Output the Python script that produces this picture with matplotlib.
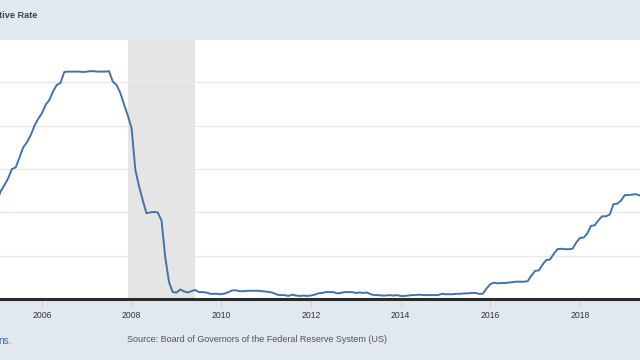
import matplotlib
matplotlib.use("Agg")
import matplotlib.pyplot as plt
import matplotlib.dates as mdates
import pandas as pd

# Effective Federal Funds Rate, monthly, Jan 2005 - Jun 2019 (percent)
rate_2005 = [2.28, 2.50, 2.63, 2.79, 3.00, 3.04, 3.26, 3.50, 3.62, 3.78, 4.00, 4.16]
rate_2006 = [4.29, 4.49, 4.59, 4.79, 4.94, 4.99, 5.24, 5.25, 5.25, 5.25, 5.25, 5.24]
rate_2007 = [5.25, 5.26, 5.26, 5.25, 5.25, 5.25, 5.26, 5.02, 4.94, 4.76, 4.49, 4.24]
rate_2008 = [3.94, 2.98, 2.61, 2.28, 1.98, 2.00, 2.01, 2.00, 1.81, 0.97, 0.39, 0.16]
rate_2009 = [0.15, 0.22, 0.18, 0.15, 0.18, 0.21, 0.16, 0.16, 0.15, 0.12, 0.12, 0.12]
rate_2010 = [0.11, 0.13, 0.16, 0.20, 0.20, 0.18, 0.18, 0.19, 0.19, 0.19, 0.19, 0.18]
rate_2011 = [0.17, 0.16, 0.14, 0.10, 0.09, 0.09, 0.07, 0.10, 0.08, 0.07, 0.08, 0.07]
rate_2012 = [0.08, 0.10, 0.13, 0.14, 0.16, 0.16, 0.16, 0.13, 0.14, 0.16, 0.16, 0.16]
rate_2013 = [0.14, 0.15, 0.14, 0.15, 0.11, 0.09, 0.09, 0.08, 0.08, 0.09, 0.08, 0.09]
rate_2014 = [0.07, 0.07, 0.08, 0.09, 0.09, 0.10, 0.09, 0.09, 0.09, 0.09, 0.09, 0.12]
rate_2015 = [0.11, 0.11, 0.11, 0.12, 0.12, 0.13, 0.13, 0.14, 0.14, 0.12, 0.12, 0.24]
rate_2016 = [0.34, 0.38, 0.36, 0.37, 0.37, 0.38, 0.39, 0.40, 0.40, 0.40, 0.41, 0.54]
rate_2017 = [0.65, 0.66, 0.79, 0.90, 0.91, 1.04, 1.15, 1.16, 1.15, 1.15, 1.16, 1.30]
rate_2018 = [1.41, 1.42, 1.51, 1.69, 1.70, 1.82, 1.91, 1.91, 1.95, 2.19, 2.20, 2.27]
rate_2019 = [2.40, 2.40, 2.41, 2.42, 2.39, 2.38]

start_month = "2005-01-01"
recession_start = "2007-12-01"
recession_end = "2009-06-01"
tick_years = [2006, 2008, 2010, 2012, 2014, 2016, 2018]
title_fragment = "tive Rate"
note_fragment = "ns."
source_text = "Source: Board of Governors of the Federal Reserve System (US)"

values = (rate_2005 + rate_2006 + rate_2007 + rate_2008 + rate_2009 + rate_2010 +
          rate_2011 + rate_2012 + rate_2013 + rate_2014 + rate_2015 + rate_2016 +
          rate_2017 + rate_2018 + rate_2019)
dates = pd.date_range(start_month, periods=len(values), freq="MS")

plt.rcParams["font.family"] = ["Liberation Sans", "DejaVu Sans"]

BAND = "#e1e8f0"
fig = plt.figure(figsize=(6.4, 3.6), dpi=100)
fig.patch.set_facecolor(BAND)

ax = fig.add_axes([0.0, 1 - 299 / 360, 1.0, (299 - 40) / 360])
ax.set_facecolor("white")

ax.axvspan(pd.Timestamp(recession_start), pd.Timestamp(recession_end),
           color="#e5e5e5", lw=0, zorder=0)
ax.plot(dates, values, color="#4572a7", lw=1.4, zorder=3)

ax.set_ylim(0, 5.98)
ax.set_yticks([1, 2, 3, 4, 5])
ax.yaxis.grid(True, color="#e8e8e8", lw=1)
ax.set_axisbelow(True)
ax.tick_params(axis="y", left=False, labelleft=False)

ax.set_xlim(pd.Timestamp("2005-01-24"), pd.Timestamp("2019-05-05"))
ax.set_xticks([pd.Timestamp(f"{y}-01-01") for y in tick_years])
ax.xaxis.set_major_formatter(mdates.DateFormatter("%Y"))
ax.tick_params(axis="x", direction="out", length=6, width=0.8,
               color="#c8d2de", labelsize=6.2, labelcolor="#333333", pad=2.5)

for side in ["left", "right", "top"]:
    ax.spines[side].set_visible(False)
ax.spines["bottom"].set_color("#2b2b2b")
ax.spines["bottom"].set_linewidth(2.2)

fig.text(-0.002, 1 - 15 / 360, title_fragment, fontsize=6.6, fontweight="bold",
         color="#444444", ha="left", va="center")
fig.text(-0.002, 1 - 341 / 360, note_fragment, fontsize=7.2,
         color="#3d6aa8", ha="left", va="center")
fig.text(257 / 640, 1 - 340 / 360, source_text, fontsize=6.5,
         color="#555555", ha="center", va="center")

fig.savefig("out.png", dpi=100, facecolor=fig.get_facecolor())
